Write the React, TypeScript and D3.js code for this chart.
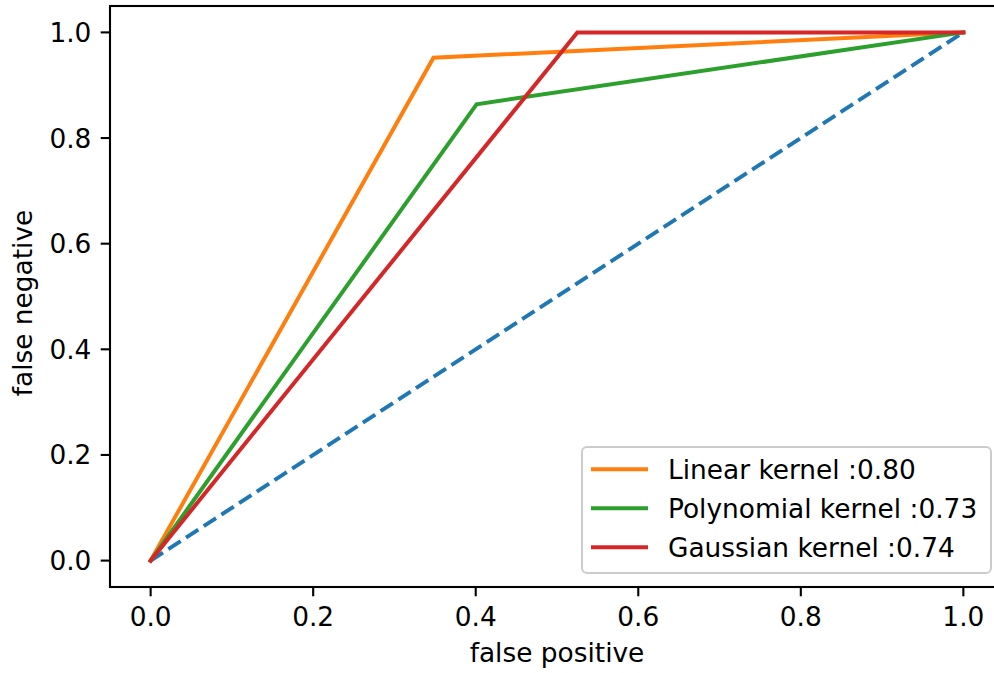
import React, { useRef, useEffect } from "react";
import * as d3 from "d3";

// ROC curves
const chanceX = [0, 1];
const chanceY = [0, 1];
const linearFpr = [0, 0.348, 1];
const linearTpr = [0, 0.952, 1];
const polyFpr = [0, 0.401, 1];
const polyTpr = [0, 0.864, 1];
const gaussFpr = [0, 0.525, 1];
const gaussTpr = [0, 1.0, 1];

const seriesNames = ["Linear kernel :0.80", "Polynomial kernel :0.73", "Gaussian kernel :0.74"];
const seriesColors = ["#ff7f0e", "#2ca02c", "#d62728"];
const tickValues = [0, 0.2, 0.4, 0.6, 0.8, 1.0];

const W = 994;
const H = 673;
const FONT = "DejaVu Sans, sans-serif";
const FS = 26.4;
const LW = 4;
const TICK = 9.3;

const App = () => {
    const ref = useRef<SVGSVGElement | null>(null);

    useEffect(() => {
        const svg = d3.select(ref.current);
        svg.selectAll("*").remove();

        // axes box (right spine is cut off by the figure edge)
        const left = 110, right = 1004, top = 6, bottom = 587;
        const x = d3.scaleLinear().domain([-0.05, 1.05]).range([left, right]);
        const y = d3.scaleLinear().domain([-0.05, 1.05]).range([bottom, top]);

        svg.append("rect").attr("width", W).attr("height", H).attr("fill", "white");

        const line = d3.line<[number, number]>()
            .x(d => x(d[0]))
            .y(d => y(d[1]));

        const zip = (a: number[], b: number[]) => a.map((v, i) => [v, b[i]] as [number, number]);

        // chance diagonal
        svg.append("path")
            .datum(zip(chanceX, chanceY))
            .attr("d", line)
            .attr("fill", "none")
            .attr("stroke", "#1f77b4")
            .attr("stroke-width", LW)
            .attr("stroke-dasharray", "14.7,6.4");

        const curves = [zip(linearFpr, linearTpr), zip(polyFpr, polyTpr), zip(gaussFpr, gaussTpr)];
        curves.forEach((c, i) => {
            svg.append("path")
                .datum(c)
                .attr("d", line)
                .attr("fill", "none")
                .attr("stroke", seriesColors[i])
                .attr("stroke-width", LW)
                .attr("stroke-linejoin", "miter")
                .attr("stroke-linecap", "square");
        });

        // spines
        svg.append("rect")
            .attr("x", left).attr("y", top)
            .attr("width", right - left).attr("height", bottom - top)
            .attr("fill", "none").attr("stroke", "black").attr("stroke-width", 2.1);

        // x ticks
        const xt = svg.append("g");
        tickValues.forEach(t => {
            xt.append("line")
                .attr("x1", x(t)).attr("x2", x(t))
                .attr("y1", bottom).attr("y2", bottom + TICK)
                .attr("stroke", "black").attr("stroke-width", 2.1);
            xt.append("text")
                .attr("x", x(t)).attr("y", 626)
                .attr("text-anchor", "middle")
                .attr("font-family", FONT).attr("font-size", FS)
                .text(t.toFixed(1));
        });

        // y ticks
        const yt = svg.append("g");
        tickValues.forEach(t => {
            yt.append("line")
                .attr("x1", left - TICK).attr("x2", left)
                .attr("y1", y(t)).attr("y2", y(t))
                .attr("stroke", "black").attr("stroke-width", 2.1);
            yt.append("text")
                .attr("x", left - 2 * TICK).attr("y", y(t))
                .attr("dy", "0.36em")
                .attr("text-anchor", "end")
                .attr("font-family", FONT).attr("font-size", FS)
                .text(t.toFixed(1));
        });

        // axis labels
        svg.append("text")
            .attr("x", 557).attr("y", 662)
            .attr("text-anchor", "middle")
            .attr("font-family", FONT).attr("font-size", FS)
            .text("false positive");

        svg.append("text")
            .attr("transform", "translate(32,303) rotate(-90)")
            .attr("text-anchor", "middle")
            .attr("font-family", FONT).attr("font-size", FS)
            .text("false negative");

        // legend
        const lg = svg.append("g");
        lg.append("rect")
            .attr("x", 582).attr("y", 447)
            .attr("width", 409).attr("height", 126)
            .attr("rx", 5)
            .attr("fill", "white").attr("fill-opacity", 0.8)
            .attr("stroke", "#cccccc").attr("stroke-width", 2);
        seriesNames.forEach((name, i) => {
            const ly = 469.3 + i * 39;
            lg.append("line")
                .attr("x1", 591).attr("x2", 648)
                .attr("y1", ly).attr("y2", ly)
                .attr("stroke", seriesColors[i]).attr("stroke-width", LW);
            lg.append("text")
                .attr("x", 668).attr("y", ly)
                .attr("dy", "0.36em")
                .attr("font-family", FONT).attr("font-size", FS)
                .text(name);
        });
    }, []);

    return (
        <svg
            ref={ref}
            width={W}
            height={H}
            style={{ position: "absolute", left: 0, top: 0, display: "block" }}
        />
    );
};

export default App;
